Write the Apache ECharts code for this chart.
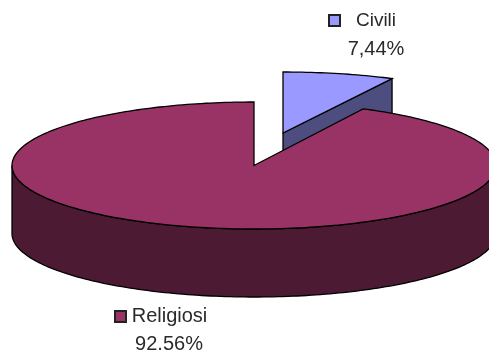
<!DOCTYPE html>
<html><head><meta charset="utf-8">
<style>html,body{margin:0;padding:0;background:#fff}#c{width:489px;height:352px}</style>
<script src="https://cdn.jsdelivr.net/npm/echarts@6/dist/echarts.min.js"></script>
</head><body><div id="c"></div>
<script>
const categories = ['Civili', 'Religiosi'];
const values = [7.44, 92.56];
const valueLabels = ['7,44%', '92.56%'];

const topColors = ['#9999ff', '#993366'];
const wallColors = ['#4d4d80', '#4d1a33'];
const centre = [[283, 133], [254, 165.5]];
const radii = [[242, 61], [242, 63.5]];
const depth = 68;
const swatches = [[329, 15], [115, 311]];
const nameAt = [[376, 21], [169.5, 316.5]];
const valueAt = [[376, 49], [169, 344.5]];
const nameSize = [19, 20];
const valueSize = 20;
const total = values.reduce((a, b) => a + b, 0);

function renderSlice(params, api) {
  const i = params.dataIndex;
  let before = 0;
  for (let k = 0; k < i; k++) before += values[k];
  const a0 = before / total * 2 * Math.PI;
  const a1 = (before + api.value(1)) / total * 2 * Math.PI;
  const [cx, cy] = centre[i], [rx, ry] = radii[i];
  const pt = (a, dy) => [cx + rx * Math.sin(a), cy - ry * Math.cos(a) + (dy || 0)];
  const arc = (s, e, dy) => {
    const pts = [], n = Math.max(2, Math.ceil(Math.abs(e - s) / 0.02));
    for (let j = 0; j <= n; j++) pts.push(pt(s + (e - s) * j / n, dy));
    return pts;
  };
  const line = { stroke: '#000', lineWidth: 1.3 };
  const children = [];
  const poly = (points, fill) => children.push({
    type: 'polygon', shape: { points },
    style: Object.assign({ fill }, line)
  });
  // visible outer wall: the front half of the rim
  const f0 = Math.max(a0, Math.PI / 2), f1 = Math.min(a1, 3 * Math.PI / 2);
  if (f1 > f0) poly(arc(f0, f1).concat(arc(f1, f0, depth)), wallColors[i]);
  // inner wall of the exploded slice, along its closing radius
  if (a1 < Math.PI / 2) {
    const e = pt(a1);
    poly([[cx, cy], e, [e[0], e[1] + depth], [cx, cy + depth]], wallColors[i]);
  }
  // top face
  poly([[cx, cy]].concat(arc(a0, a1)), topColors[i]);
  // legend key and labels
  children.push({
    type: 'rect',
    shape: { x: swatches[i][0], y: swatches[i][1], width: 11, height: 11 },
    style: { fill: topColors[i], stroke: '#222', lineWidth: 2 }
  });
  const text = (s, p, size) => children.push({
    type: 'text', x: p[0], y: p[1],
    style: { text: s, fill: '#2a2a2a', fontFamily: 'Liberation Sans', fontSize: size,
             align: 'center', verticalAlign: 'middle' }
  });
  text(categories[i], nameAt[i], nameSize[i]);
  text(valueLabels[i], valueAt[i], valueSize);
  return { type: 'group', children };
}

const chart = echarts.init(document.getElementById('c'), null, { renderer: 'canvas' });
chart.setOption({
  animation: false,
  backgroundColor: '#fff',
  series: [{
    type: 'custom',
    coordinateSystem: 'none',
    silent: true,
    renderItem: renderSlice,
    data: categories.map((c, i) => [c, values[i]])
  }]
});
</script></body></html>
